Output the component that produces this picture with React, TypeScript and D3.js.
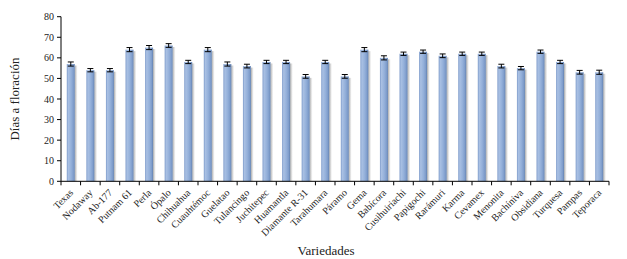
import React from "react";
import * as d3 from "d3";

const categories = [
  "Texas", "Nodaway", "Ab-177", "Putnam 61", "Perla", "Ópalo", "Chihuahua", "Cuauhtémoc",
  "Guelatao", "Tulancingo", "Juchitepec", "Huamantla", "Diamante R-31", "Tarahumara", "Páramo",
  "Gema", "Babícora", "Cusihuiriachi", "Papigochi", "Rarámuri", "Karma", "Cevamex", "Menonita",
  "Bachíniva", "Obsidiana", "Turquesa", "Pampas", "Teporaca",
];
const values = [
  57, 54, 54, 64, 65, 66, 58, 64,
  57, 56, 58, 58, 51, 58, 51,
  64, 60, 62, 63, 61, 62, 62, 56,
  55, 63, 58, 53, 53,
];
const errors = [
  1, 0.8, 0.8, 1, 1, 0.9, 0.8, 1,
  1, 0.9, 0.8, 0.8, 0.9, 0.8, 0.9,
  1, 1, 0.8, 0.8, 0.9, 0.8, 0.8, 0.9,
  0.8, 0.8, 0.8, 0.9, 1,
];
const yTicks = [0, 10, 20, 30, 40, 50, 60, 70, 80];

const W = 627, H = 259;
const left = 61, right = 609, top = 16.7, bottom = 181.3;
const font = "'Liberation Serif', 'Times New Roman', serif";

export default function App() {
  const x = d3.scaleBand<string>().domain(categories).range([left, right]).padding(0);
  const y = d3.scaleLinear().domain([0, 80]).range([bottom, top]);
  const bw = 8;
  const bounds = categories.map((_, i) => left + i * x.step()).concat([right]);
  return (
    <svg width={W} height={H} style={{ position: "absolute", left: 0, top: 0, background: "#fff" }}>
      <defs>
        <linearGradient id="barg" x1="0" x2="1" y1="0" y2="0">
          <stop offset="0" stopColor="#7f9ccb" />
          <stop offset="0.2" stopColor="#a9c0e3" />
          <stop offset="0.55" stopColor="#94b0da" />
          <stop offset="0.85" stopColor="#7d9bca" />
          <stop offset="1" stopColor="#5f7fae" />
        </linearGradient>
        <linearGradient id="shad" x1="0" x2="1" y1="0" y2="0">
          <stop offset="0" stopColor="#909090" stopOpacity="0.8" />
          <stop offset="1" stopColor="#d8d8d8" stopOpacity="0.3" />
        </linearGradient>
      </defs>
      {categories.map((c, i) => {
        const cx = (x(c) as number) + x.bandwidth() / 2;
        const yv = y(values[i]);
        return (
          <g key={c}>
            <rect x={cx - bw / 2 + bw} y={yv + 1.5} width={2.5} height={bottom - yv - 1.5} fill="url(#shad)" />
            <rect x={cx - bw / 2} y={yv} width={bw} height={bottom - yv} fill="url(#barg)" />
          </g>
        );
      })}
      {categories.map((c, i) => {
        const cx = (x(c) as number) + x.bandwidth() / 2;
        const y1 = y(values[i] + errors[i]);
        const y2 = y(values[i] - errors[i]);
        return (
          <g key={"e" + c} stroke="#000" strokeWidth={1}>
            <line x1={cx} x2={cx} y1={y1} y2={y2} />
            <line x1={cx - 3} x2={cx + 3} y1={y1} y2={y1} />
            <line x1={cx - 3} x2={cx + 3} y1={y2} y2={y2} />
          </g>
        );
      })}
      {/* y axis */}
      <line x1={left} x2={left} y1={top} y2={bottom} stroke="#000" strokeWidth={1} />
      {yTicks.map((t) => (
        <g key={t}>
          <line x1={left - 4} x2={left} y1={y(t)} y2={y(t)} stroke="#000" />
          <text x={left - 7} y={y(t) + 3.5} fontFamily={font} fontSize={10} textAnchor="end" fill="#222">
            {t}
          </text>
        </g>
      ))}
      {/* x axis */}
      <line x1={left} x2={right} y1={bottom} y2={bottom} stroke="#000" strokeWidth={1} />
      {bounds.map((b, i) => (
        <line key={"t" + i} x1={b} x2={b} y1={bottom} y2={bottom + 4} stroke="#000" />
      ))}
      {categories.map((c) => {
        const cx = (x(c) as number) + x.bandwidth() / 2 + 3;
        const ty = bottom + 12;
        return (
          <text
            key={"l" + c}
            x={cx}
            y={ty}
            fontFamily={font}
            fontSize={10}
            textAnchor="end"
            fill="#222"
            transform={`rotate(-45 ${cx} ${ty})`}
          >
            {c}
          </text>
        );
      })}
      <text
        x={19}
        y={(top + bottom) / 2}
        fontFamily={font}
        fontSize={13}
        textAnchor="middle"
        fill="#222"
        transform={`rotate(-90 19 ${(top + bottom) / 2})`}
      >
        Días a floración
      </text>
      <text x={326} y={255} fontFamily={font} fontSize={13} textAnchor="middle" fill="#222">
        Variedades
      </text>
    </svg>
  );
}
